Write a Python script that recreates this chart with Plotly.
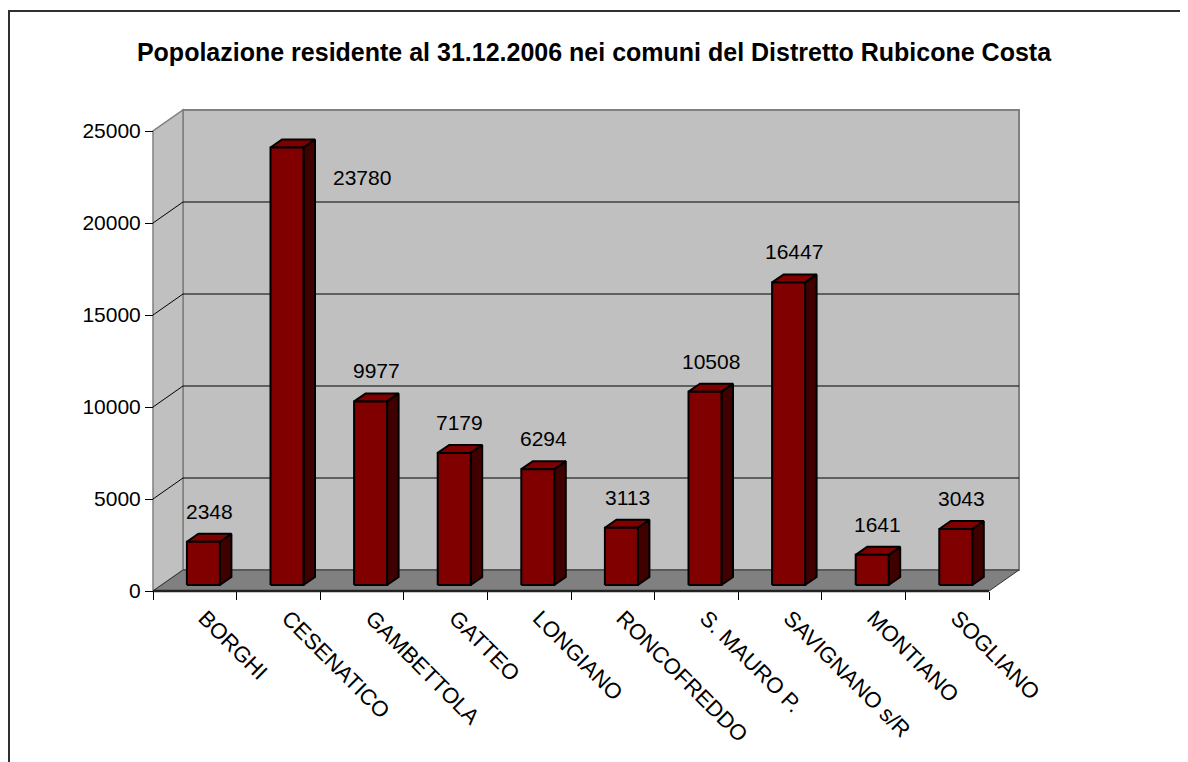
import plotly.graph_objects as go

# ---------------- data ----------------
comuni = ["BORGHI", "CESENATICO", "GAMBETTOLA", "GATTEO", "LONGIANO",
          "RONCOFREDDO", "S. MAURO P.", "SAVIGNANO s/R", "MONTIANO", "SOGLIANO"]
popolazione = [2348, 23780, 9977, 7179, 6294, 3113, 10508, 16447, 1641, 3043]
y_ticks = [0, 5000, 10000, 15000, 20000, 25000]
y_tick_labels = ["0", "5000", "10000", "15000", "20000", "25000"]
titolo = "Popolazione residente al 31.12.2006 nei comuni del Distretto Rubicone Costa"

# ---------------- geometry / style ----------------
W, H = 1188, 762
S = 8                                     # default page body margin
L, R, T, B = 140 - S, 1040 - S, 100 - S, 610 - S   # plot area in figure pixels
OX, OY = 153 - S, 591 - S                 # figure pixel of (x=-0.5, y=0)
PX_X = 83.6                               # px per category
PX_Y = 0.0184                             # px per unit of value
YMAX = 25000
n = len(comuni)

def dx(px):
    return px / PX_X

def dy(px):
    return px / PX_Y

DX, DY = dx(30), dy(21)          # wall depth
FX, FY = dx(8.6), dy(6)          # bar front offset
BX, BY = dx(11.5), dy(8)         # bar depth
HW = dx(33) / 2                  # half bar width

x_range = [-0.5 - (OX - L) / PX_X, -0.5 + (R - OX) / PX_X]
y_range = [-(B - OY) / PX_Y, (OY - T) / PX_Y]

FONT = "Liberation Sans, Arial, sans-serif"
WALL = "#C0C0C0"
FLOOR = "#808080"
EDGE = "#808080"

def path(pts):
    return "M " + " L ".join(f"{x},{y}" for x, y in pts) + " Z"

shapes = []
x0, x1 = -0.5, n - 0.5
# back wall
shapes.append(dict(type="path", xref="x", yref="y", layer="below",
                   path=path([(x0 + DX, DY), (x1 + DX, DY), (x1 + DX, YMAX + DY), (x0 + DX, YMAX + DY)]),
                   fillcolor=WALL, line=dict(color=EDGE, width=2)))
# left wall
shapes.append(dict(type="path", xref="x", yref="y", layer="below",
                   path=path([(x0, 0), (x0, YMAX), (x0 + DX, YMAX + DY), (x0 + DX, DY)]),
                   fillcolor=WALL, line=dict(color=EDGE, width=1.5)))
# floor
shapes.append(dict(type="path", xref="x", yref="y", layer="below",
                   path=path([(x0, 0), (x1, 0), (x1 + DX, DY), (x0 + DX, DY)]),
                   fillcolor=FLOOR, line=dict(color="#333333", width=1)))
# gridlines
for v in y_ticks[1:-1]:
    shapes.append(dict(type="path", xref="x", yref="y", layer="below",
                       path=f"M {x0},{v} L {x0 + DX},{v + DY} L {x1 + DX},{v + DY}",
                       line=dict(color="black", width=1)))
# front floor edge
shapes.append(dict(type="line", xref="x", yref="y", layer="below",
                   x0=x0, y0=0, x1=x1, y1=0, line=dict(color="#222222", width=2.5)))
# outer chart border
bx = (9 - S - L) / (R - L)
by = (B - (11 - S)) / (B - T)
shapes.append(dict(type="path", xref="paper", yref="paper",
                   path=f"M {bx},-1 L {bx},{by} L 2,{by}",
                   line=dict(color="#303030", width=2)))

# ---------------- bars (3D boxes) ----------------
fx, fy, tx, ty, sx, sy = [], [], [], [], [], []
for i, v in enumerate(popolazione):
    a, b = i - HW + FX, i + HW + FX
    y0b, y1b = FY, v + FY
    fx += [a, b, b, a, a, None]
    fy += [y0b, y0b, y1b, y1b, y0b, None]
    tx += [a, b, b + BX, a + BX, a, None]
    ty += [y1b, y1b, y1b + BY, y1b + BY, y1b, None]
    sx += [b, b + BX, b + BX, b, b, None]
    sy += [y0b, y0b + BY, y1b + BY, y1b, y0b, None]

fig = go.Figure()
for xs, ys, col in [(sx, sy, "#400000"), (tx, ty, "#800000"), (fx, fy, "#800000")]:
    fig.add_trace(go.Scatter(x=xs, y=ys, mode="lines", fill="toself", fillcolor=col,
                             line=dict(color="black", width=2), hoverinfo="skip",
                             showlegend=False))

annotations = []
LABEL_ROOM = dy(30)  # room needed above a bar for its label inside the walls
for i, v in enumerate(popolazione):
    ann = dict(x=i + FX + BX / 2, y=v + FY + BY, xref="x", yref="y",
               text=str(v), showarrow=False, yanchor="bottom", yshift=9,
               font=dict(family=FONT, size=21, color="black"))
    if v + LABEL_ROOM > YMAX:
        # not enough room above: place the label beside the bar, as Excel does
        ann.update(yanchor="middle", xshift=69, yshift=-38)
    annotations.append(ann)

fig.update_layout(
    width=W, height=H, autosize=False,
    margin=dict(l=L, r=W - R, t=T, b=H - B, pad=0),
    paper_bgcolor="white", plot_bgcolor="white",
    shapes=shapes, annotations=annotations,
    title=dict(text=f"<b>{titolo}</b>", x=(594 - S) / W, xref="container", xanchor="center",
               y=1 - (52 - S) / H, yref="container", yanchor="middle",
               font=dict(family=FONT, size=25, color="black")),
    xaxis=dict(range=x_range, anchor="free", position=(B - OY) / (B - T),
               tickmode="array", tickvals=list(range(n)), ticktext=comuni,
               tickangle=45, ticks="", showgrid=False, zeroline=False, showline=False,
               ticklabelstandoff=9, ticklabelshift=10,
               tickfont=dict(family=FONT, size=22, color="black"),
               minor=dict(tickmode="array", tickvals=[k - 0.5 for k in range(n + 1)],
                          ticks="outside", ticklen=8, tickcolor="black", tickwidth=1,
                          showgrid=False)),
    yaxis=dict(range=y_range, anchor="free", position=(OX - L) / (R - L),
               tickmode="array", tickvals=y_ticks, ticktext=y_tick_labels,
               ticks="outside", ticklen=8,
               tickcolor="black", tickwidth=1, showgrid=False, zeroline=False,
               showline=False, tickfont=dict(family=FONT, size=21, color="black")),
)

fig.write_html("out.html")
